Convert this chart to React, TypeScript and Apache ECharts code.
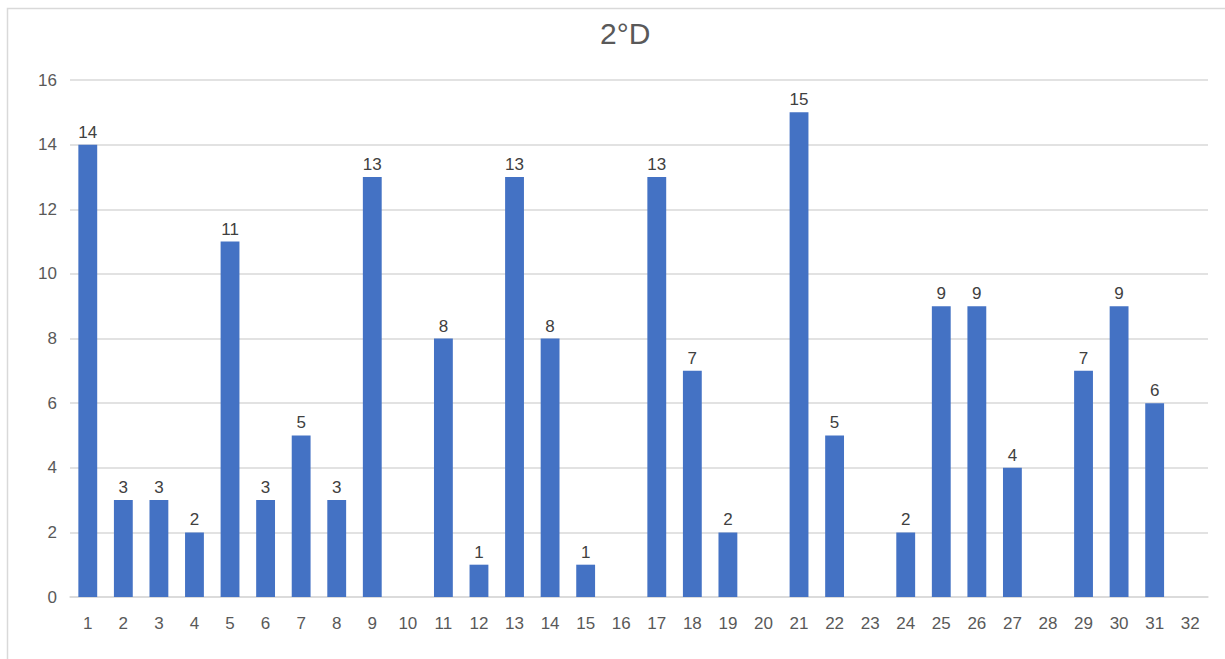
import React, { useEffect, useRef } from "react";
import * as echarts from "echarts";

const categories = [
  "1","2","3","4","5","6","7","8","9","10","11","12","13","14","15","16",
  "17","18","19","20","21","22","23","24","25","26","27","28","29","30","31","32",
];
const values: (number | null)[] = [
  14, 3, 3, 2, 11, 3, 5, 3, 13, null, 8, 1, 13, 8, 1, null,
  13, 7, 2, null, 15, 5, null, 2, 9, 9, 4, null, 7, 9, 6, null,
];
const chartTitle = "2°D";

const FONT = "'Liberation Sans', Arial, sans-serif";

export default function App() {
  const ref = useRef<HTMLDivElement>(null);
  useEffect(() => {
    document.body.style.margin = "0";
    if (!ref.current) return;
    const chart = echarts.init(ref.current, undefined, { renderer: "svg" });
    chart.setOption({
      animation: false,
      backgroundColor: "#ffffff",
      title: {
        text: chartTitle,
        left: 595,
        top: 13,
        textStyle: { fontFamily: FONT, fontSize: 30, fontWeight: "normal", color: "#595959" },
      },
      graphic: [
        {
          type: "rect",
          shape: { x: 7.5, y: 8.5, width: 1240, height: 680 },
          style: { fill: "none", stroke: "#d9d9d9", lineWidth: 1.5 },
          silent: true,
        },
      ],
      grid: { left: 70, right: 17, top: 80, bottom: 62, containLabel: false },
      xAxis: {
        type: "category",
        data: categories,
        axisLine: { show: true, lineStyle: { color: "#d9d9d9", width: 1.5 } },
        axisTick: { show: false },
        axisLabel: { fontFamily: FONT, fontSize: 17, color: "#595959", margin: 18, interval: 0 },
      },
      yAxis: {
        type: "value",
        min: 0,
        max: 16,
        interval: 2,
        axisLine: { show: false },
        axisTick: { show: false },
        splitLine: { lineStyle: { color: "#d9d9d9", width: 1.5 } },
        axisLabel: { fontFamily: FONT, fontSize: 17, color: "#595959", margin: 13 },
      },
      series: [
        {
          type: "bar",
          data: values,
          barWidth: "53%",
          itemStyle: { color: "#4472C4" },
          label: {
            show: true,
            position: "top",
            distance: 4,
            fontFamily: FONT,
            fontSize: 17,
            color: "#404040",
          },
        },
      ],
    });
    return () => chart.dispose();
  }, []);
  return <div ref={ref} style={{ width: 1225, height: 659 }} />;
}
